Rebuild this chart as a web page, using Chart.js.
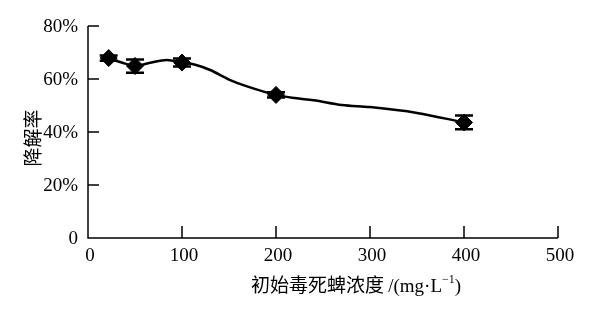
<!DOCTYPE html>
<html><head><meta charset="utf-8">
<script src="https://cdn.jsdelivr.net/npm/chart.js@4"></script>
<style>html,body{margin:0;padding:0;background:#fff;}#wrap{width:616px;height:309px;}</style>
</head><body><div id="wrap"><canvas id="c" width="616" height="309"></canvas></div>
<script>
// Measured points (concentration, degradation %, error)
const concX = [22, 50, 100, 200, 400];
const rate = [67.9, 64.9, 66.2, 54.0, 43.6];
const err = [1.0, 2.5, 1.5, 1.0, 2.6];
// Smoothed fitted curve
const curveX = [22, 35, 50, 65, 84, 100, 115, 130, 150, 170, 200, 220, 240, 270, 300, 350, 400];
const curveY = [67.9, 66.3, 65.0, 66.0, 67.2, 66.2, 65.3, 63.4, 59.8, 57.1, 54.0, 52.8, 52.0, 50.2, 49.4, 47.2, 43.6];
const xTicks = [0, 100, 200, 300, 400, 500];
const yTicks = [0, 20, 40, 60, 80];

const serif = '"Liberation Serif", "DejaVu Serif", serif';
const cjk = '"Noto Sans CJK SC", sans-serif';

const decor = {
  id: 'decor',
  afterDatasetsDraw(chart) {
    const ctx = chart.ctx, xs = chart.scales.x, ys = chart.scales.y;
    const a = chart.chartArea;
    ctx.save();
    // error bars
    ctx.strokeStyle = '#000'; ctx.lineWidth = 2.5;
    concX.forEach((x, i) => {
      const px = xs.getPixelForValue(x);
      const t = ys.getPixelForValue(rate[i] + err[i]);
      const b = ys.getPixelForValue(rate[i] - err[i]);
      ctx.beginPath();
      ctx.moveTo(px, t); ctx.lineTo(px, b);
      ctx.moveTo(px - 9, t); ctx.lineTo(px + 9, t);
      ctx.moveTo(px - 9, b); ctx.lineTo(px + 9, b);
      ctx.stroke();
    });
    // axes
    ctx.lineWidth = 1.5;
    ctx.beginPath();
    ctx.moveTo(a.left, a.top); ctx.lineTo(a.left, a.bottom); ctx.lineTo(a.right, a.bottom);
    yTicks.forEach(v => { const py = ys.getPixelForValue(v); ctx.moveTo(a.left, py); ctx.lineTo(a.left + 11, py); });
    xTicks.forEach(v => { const px = xs.getPixelForValue(v); ctx.moveTo(px, a.bottom); ctx.lineTo(px, a.bottom - 12); });
    ctx.stroke();
    // tick labels
    ctx.fillStyle = '#000';
    ctx.font = '19px ' + serif;
    ctx.textAlign = 'right'; ctx.textBaseline = 'middle';
    yTicks.forEach(v => { ctx.fillText(v === 0 ? '0' : v + '%', a.left - 10, ys.getPixelForValue(v) + 1); });
    ctx.textAlign = 'center'; ctx.textBaseline = 'top';
    xTicks.forEach(v => { ctx.fillText(String(v), xs.getPixelForValue(v) + 2, a.bottom + 9); });
    // y title
    ctx.save();
    ctx.translate(33, 138);
    ctx.rotate(-Math.PI / 2);
    ctx.font = '19px ' + cjk;
    ctx.textAlign = 'center'; ctx.textBaseline = 'middle';
    ctx.fillText('降解率', 0, 0);
    ctx.restore();
    // x title
    const p1 = '初始毒死蜱浓度 ', p2 = '/(mg·L', sup = '−1', p3 = ')';
    ctx.textBaseline = 'alphabetic'; ctx.textAlign = 'left';
    ctx.font = '19px ' + cjk; const w1 = ctx.measureText(p1).width;
    ctx.font = '19px ' + serif; const w2 = ctx.measureText(p2).width, w4 = ctx.measureText(p3).width;
    ctx.font = '12px ' + serif; const w3 = ctx.measureText(sup).width;
    let x0 = 356 - (w1 + w2 + w3 + w4) / 2; const yb = 292;
    ctx.font = '19px ' + cjk; ctx.fillText(p1, x0, yb); x0 += w1;
    ctx.font = '19px ' + serif; ctx.fillText(p2, x0, yb); x0 += w2;
    ctx.font = '12px ' + serif; ctx.fillText(sup, x0, yb - 9); x0 += w3;
    ctx.font = '19px ' + serif; ctx.fillText(p3, x0, yb);
    ctx.restore();
  }
};

new Chart(document.getElementById('c'), {
  type: 'scatter',
  data: {
    datasets: [
      {
        label: 'curve', showLine: true,
        data: curveX.map((x, i) => ({x, y: curveY[i]})),
        borderColor: '#000', borderWidth: 2.5, pointRadius: 0,
        tension: 0.4, cubicInterpolationMode: 'monotone', order: 2
      },
      {
        label: 'points',
        data: concX.map((x, i) => ({x, y: rate[i]})),
        pointStyle: 'rectRot', pointRadius: 8.5,
        backgroundColor: '#000', borderColor: '#000', borderWidth: 1, order: 1
      }
    ]
  },
  options: {
    responsive: false, animation: false,
    layout: { padding: { top: 26, right: 58, left: 0, bottom: 0 } },
    plugins: { legend: { display: false }, tooltip: { enabled: false } },
    scales: {
      x: {
        type: 'linear', min: 0, max: 500,
        grid: { display: false }, border: { display: false },
        ticks: { display: false },
        afterFit(s) { s.height = 71; }
      },
      y: {
        min: 0, max: 80,
        grid: { display: false }, border: { display: false },
        ticks: { display: false },
        afterFit(s) { s.width = 88; }
      }
    }
  },
  plugins: [decor]
});
</script>
</body></html>
